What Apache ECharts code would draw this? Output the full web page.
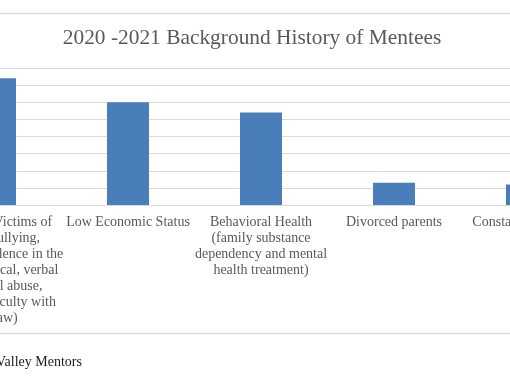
<!DOCTYPE html>
<html>
<head>
<meta charset="utf-8">
<script src="https://cdn.jsdelivr.net/npm/echarts@6/dist/echarts.min.js"></script>
<style>
html,body{margin:0;padding:0;background:#fff;overflow:hidden;width:510px;height:382px;}
#c{position:absolute;left:-100px;top:0;width:800px;height:382px;}
</style>
</head>
<body>
<div id="c"></div>
<script>
var titleText = "2020 -2021 Background History of Mentees";
var categories = [
  "Mentees (Victims of\nschool bullying,\ndomestic violence in the\nhome, physical, verbal\nemotional abuse,\nhaving difficulty with\nthe law)",
  "Low Economic Status",
  "Behavioral Health\n(family substance\ndependency and mental\nhealth treatment)",
  "Divorced parents",
  "Constant relocation"
];
var values = [74, 60, 54, 13, 12];
var footerText = "Valley Mentors";

var chart = echarts.init(document.getElementById('c'), null, {renderer: 'canvas'});
var serif = '"Liberation Serif", "Times New Roman", serif';
chart.setOption({
  animation: false,
  backgroundColor: '#ffffff',
  grid: {left: 28.5, right: 106.5, top: 68, bottom: 177, containLabel: false},
  xAxis: {
    type: 'category',
    data: categories,
    axisLine: {show: true, lineStyle: {color: '#d9d9d9', width: 1}},
    axisTick: {show: false},
    axisLabel: {
      interval: 0,
      margin: 9,
      color: '#595959',
      fontFamily: serif,
      fontSize: 14,
      lineHeight: 16,
      align: 'center'
    }
  },
  yAxis: {
    type: 'value',
    min: 0, max: 80, interval: 10,
    axisLabel: {show: false},
    axisLine: {show: false},
    axisTick: {show: false},
    splitLine: {lineStyle: {color: '#d9d9d9', width: 1}}
  },
  series: [{
    type: 'bar',
    data: values,
    barWidth: 42,
    itemStyle: {color: '#4A7EBB'}
  }],
  graphic: [
    {type: 'line', shape: {x1: 100, y1: 13.5, x2: 610, y2: 13.5}, style: {stroke: '#dcdcdc', lineWidth: 1.5}},
    {type: 'line', shape: {x1: 100, y1: 333.5, x2: 610, y2: 333.5}, style: {stroke: '#dcdcdc', lineWidth: 1.5}},
    {type: 'text', x: 352, y: 38, style: {text: titleText, fill: '#595959', font: '21.4px ' + serif, textAlign: 'center', textVerticalAlign: 'middle'}},
    {type: 'text', x: 96, y: 362, style: {text: footerText, fill: '#1a1a1a', font: '14px ' + serif, textAlign: 'left', textVerticalAlign: 'middle'}}
  ]
});
</script>
</body>
</html>
